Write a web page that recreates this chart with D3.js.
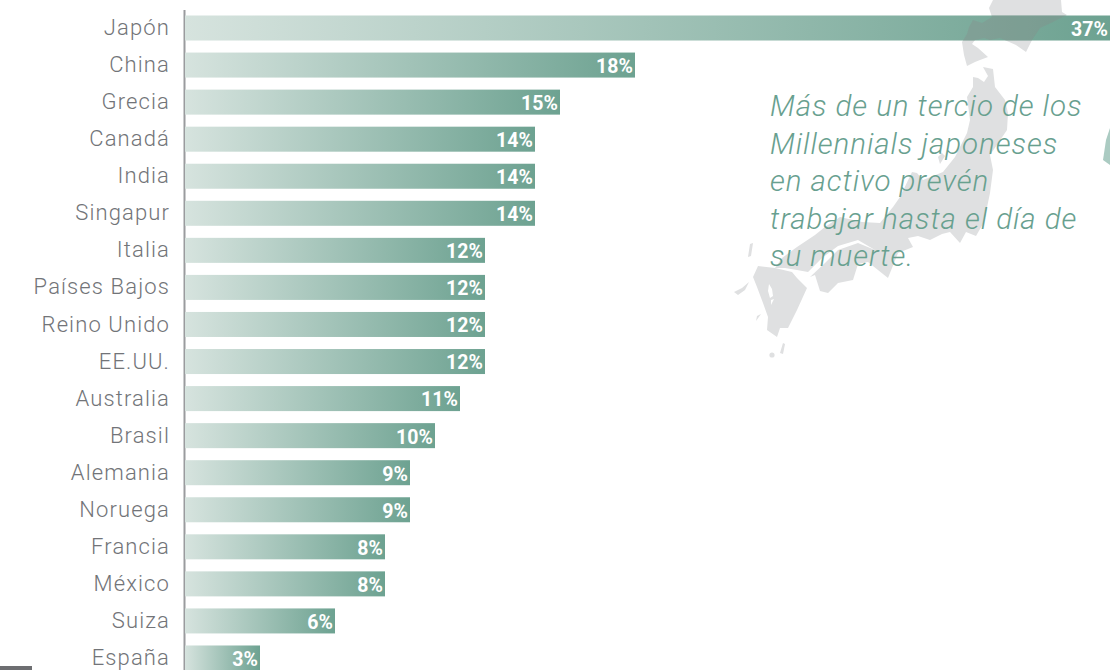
<!DOCTYPE html>
<html lang="es">
<head>
<meta charset="utf-8">
<title>Millennials: trabajar hasta el día de su muerte</title>
<script src="https://cdn.jsdelivr.net/npm/d3@7"></script>
<style>
  html, body { margin: 0; padding: 0; background: #fff; overflow: hidden; }
  svg { display: block; }
  text { font-family: Roboto, "Noto Sans", sans-serif; }
  .cat text { font-size: 22px; font-weight: 300; letter-spacing: 1.12px; fill: #727478; }
  .val { font-size: 19.5px; font-weight: 700; letter-spacing: 0.1px; fill: #fff; }
  .note { font-size: 29.5px; font-weight: 300; font-style: italic; letter-spacing: 0.95px; fill: #68a08f; }
</style>
</head>
<body>
<svg id="chart" width="1110" height="670"></svg>
<script>
const countries = ["Japón","China","Grecia","Canadá","India","Singapur","Italia","Países Bajos","Reino Unido","EE.UU.","Australia","Brasil","Alemania","Noruega","Francia","México","Suiza","España"];
const shares = [37,18,15,14,14,14,12,12,12,12,11,10,9,9,8,8,6,3];
const noteLines = ["Más de un tercio de los","Millennials japoneses","en activo prevén","trabajar hasta el día de","su muerte."];

// Outline of the Japanese archipelago used as a backdrop
const japanShapes = [
  // Hokkaido
  "M993,0 L1061,0 L1062,12 L1067,15 L1053,22 L1040,28 L1032,40 L1026,52 L1016,45 L1000,38 L990,40 L984,38 L975,40 L972,44 L978,48 L988,57 L980,60 L975,62 L967,66 L964,55 L962,42 L967,34 L969,27 L973,20 L982,23 L992,17 L989,8 Z",
  // Honshu with Shikoku and the Kii peninsula
  "M983,67 L993,69 L995,87 L1005,100 L1008,113 L1007,130 L990,155 L993,170 L990,193 L984,222 L976,236 L966,232 L960,243 L950,232 L942,234 L930,240 L918,236 L908,238 L913,247 L898,253 L888,278 L878,270 L868,262 L858,264 L853,280 L838,283 L828,293 L820,291 L815,275 L810,277 L825,263 L838,250 L858,243 L875,250 L858,240 L838,246 L822,258 L808,272 L797,270 L785,268 L775,268 L782,258 L797,247 L815,235 L825,227 L840,217 L862,222 L880,223 L893,207 L900,197 L912,172 L917,173 L923,180 L943,172 L955,157 L967,133 L970,120 L967,97 L973,87 L973,77 L978,78 L984,82 L988,76 Z",
  // Kyushu
  "M753,277 L758,266 L775,268 L792,272 L797,278 L807,288 L797,310 L788,328 L780,328 L777,337 L767,330 L768,317 L763,303 L757,287 Z",
  // Smaller islands
  "M938,157 L942,153 L945,156 L940,164 Z",
  "M750,244 L753,243 L751,256 L748,257 Z",
  "M734,292 L742,288 L749,282 L745,290 L738,295 Z",
  "M757,316 L761,314 L756,321 Z",
  "M783,343 L785,344 L783,354 L780,353 Z"
];
const bayShapes = [
  "M769,284 L772,289 L773,296 L770,298 L768,291 Z",
  "M771,300 L774,299 L771,305 Z"
];

const svg = d3.select("#chart");

const x = d3.scaleLinear().domain([0, 37]).range([185, 1110]);
const y = d3.scaleBand().domain(countries).range([15.5, 670.5]).paddingInner(0.325);

const gradient = svg.append("defs").append("linearGradient").attr("id", "barFill");
gradient.append("stop").attr("offset", "0%").attr("stop-color", "#d6e3de");
gradient.append("stop").attr("offset", "100%").attr("stop-color", "#6da291");

// Backdrop map
const map = svg.append("g").attr("fill", "#dfe0e1");
map.selectAll("path").data(japanShapes).join("path").attr("d", d => d);
map.append("circle").attr("cx", 772).attr("cy", 355).attr("r", 2.6);
svg.append("g").attr("fill", "#fff").selectAll("path").data(bayShapes).join("path").attr("d", d => d);

// Fragment of another landmass at the right edge
svg.append("path").attr("d", "M1110,128 L1106,140 L1103,160 L1110,165 Z").attr("fill", "#abcbc2");

// Vertical baseline
svg.append("line")
  .attr("x1", 184.5).attr("x2", 184.5).attr("y1", 10).attr("y2", 670)
  .attr("stroke", "#9a9b9e").attr("stroke-width", 2);

// Bars drawn over the map
svg.append("g").selectAll("rect").data(countries).join("rect")
  .attr("x", x(0))
  .attr("y", d => y(d))
  .attr("width", (d, i) => x(shares[i]) - x(0))
  .attr("height", y.bandwidth())
  .attr("fill", "url(#barFill)");

// The part of the map crossing the longest bar, tinted grey on top of it
svg.append("clipPath").attr("id", "firstBar").append("rect")
  .attr("x", x(0)).attr("y", y(countries[0]))
  .attr("width", x(shares[0]) - x(0)).attr("height", y.bandwidth());
svg.append("g").attr("clip-path", "url(#firstBar)").attr("fill", "#8a8a8a").attr("opacity", 0.32)
  .selectAll("path").data(japanShapes.slice(0, 1)).join("path").attr("d", d => d);

// Country labels
svg.append("g").attr("class", "cat")
  .attr("transform", `translate(${x(0)},0)`)
  .call(d3.axisLeft(y).tickSize(0).tickPadding(15))
  .call(g => g.select(".domain").remove());

// Value labels inside the bar ends
svg.append("g").selectAll("text").data(countries).join("text")
  .attr("class", "val")
  .attr("x", (d, i) => x(shares[i]) - 2)
  .attr("y", d => y(d) + y.bandwidth() / 2 + 0.5)
  .attr("dy", "0.38em")
  .attr("text-anchor", "end")
  .text((d, i) => shares[i] + "%");

// Callout
svg.append("g").selectAll("text").data(noteLines).join("text")
  .attr("class", "note")
  .attr("x", 770)
  .attr("y", (d, i) => 116 + i * 37.5)
  .text(d => d);

// Tab at the lower-left edge
svg.append("rect").attr("x", 0).attr("y", 666).attr("width", 32).attr("height", 4).attr("fill", "#6d6e71");
</script>
</body>
</html>
